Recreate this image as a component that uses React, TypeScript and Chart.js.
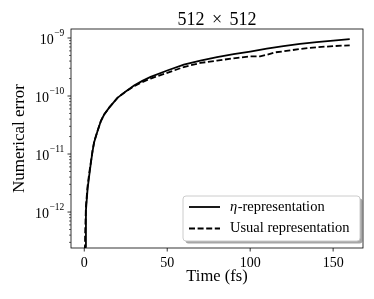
import React, { useEffect, useRef } from "react";
import { Chart, registerables } from "chart.js";

Chart.register(...registerables);

// ---- data ----
const etaTimes = [0, 0.5, 1, 2, 3, 4, 5, 6, 8, 10, 12, 15, 20, 25, 30, 35, 40, 50, 60, 70, 80, 90, 100, 110, 120, 130, 140, 150, 160];
const etaError = [2e-14, 2.5e-13, 1.07e-12, 2.5e-12, 4.3e-12, 7.1e-12, 1.12e-11, 1.62e-11, 2.5e-11, 3.7e-11, 4.8e-11, 6.3e-11, 9.3e-11, 1.2e-10, 1.51e-10, 1.82e-10, 2.14e-10, 2.75e-10, 3.47e-10, 4.07e-10, 4.68e-10, 5.25e-10, 5.82e-10, 6.53e-10, 7.24e-10, 7.94e-10, 8.51e-10, 9.02e-10, 9.55e-10];

const usualTimes = [0, 0.5, 1, 2, 3, 4, 5, 6, 8, 10, 12, 15, 20, 25, 30, 35, 40, 50, 60, 70, 80, 90, 100, 106, 110, 115, 120, 130, 140, 150, 160];
const usualError = [2e-14, 4e-13, 1.26e-12, 2.8e-12, 4.7e-12, 7.3e-12, 1.15e-11, 1.65e-11, 2.5e-11, 3.7e-11, 4.8e-11, 6.3e-11, 9.3e-11, 1.19e-10, 1.48e-10, 1.74e-10, 2.0e-10, 2.51e-10, 3.16e-10, 3.72e-10, 4.07e-10, 4.47e-10, 4.81e-10, 4.83e-10, 5.13e-10, 5.66e-10, 5.89e-10, 6.46e-10, 6.92e-10, 7.24e-10, 7.48e-10];

const xTickValues = [0, 50, 100, 150];
const yDecades = [-13, -12, -11, -10, -9];

const titleParts = ["512", "×", "512"];
const xTitle = "Time (fs)";
const yTitle = "Numerical error";
const legendLabels = ["-representation", "Usual representation"];

const FONT = "'Liberation Serif', 'DejaVu Serif', serif";

const X_MIN = -8, X_MAX = 168;
const Y_MIN = Math.pow(10, -12.62), Y_MAX = Math.pow(10, -8.845);

const framePlugin = {
  id: "mplFrame",
  afterDraw(chart: any) {
    const ctx = chart.ctx as CanvasRenderingContext2D;
    const a = chart.chartArea;
    const xs = chart.scales.x, ys = chart.scales.y;
    ctx.save();

    // title (mathtext-like spacing)
    ctx.fillStyle = "#000";
    ctx.textBaseline = "alphabetic";
    ctx.textAlign = "left";
    ctx.font = `18px ${FONT}`;
    const gap = 7.5;
    const widths = titleParts.map((p) => ctx.measureText(p).width);
    const total = widths.reduce((s, w) => s + w, 0) + gap * (titleParts.length - 1);
    let tx = (a.left + a.right) / 2 - total / 2;
    titleParts.forEach((p, i) => {
      ctx.fillText(p, tx, 25);
      tx += widths[i] + gap;
    });

    // tick marks + y tick labels
    ctx.strokeStyle = "#000";
    for (const t of ys.ticks) {
      const y = ys.getPixelForValue(t.value);
      if (y < a.top - 0.5 || y > a.bottom + 0.5) continue;
      const major = !!t.major;
      ctx.lineWidth = major ? 0.8 : 0.6;
      ctx.beginPath();
      ctx.moveTo(a.left, y);
      ctx.lineTo(a.left - (major ? 3.5 : 2), y);
      ctx.stroke();
      if (major) {
        const exp = "\u2212" + String(Math.abs(Math.round(Math.log10(t.value))));
        ctx.font = `9.5px ${FONT}`;
        const ew = ctx.measureText(exp).width;
        ctx.font = `14px ${FONT}`;
        const bw = ctx.measureText("10").width;
        const right = a.left - 6.7;
        ctx.fillText("10", right - ew - bw - 0.5, y + 5.7);
        ctx.font = `9.5px ${FONT}`;
        ctx.fillText(exp, right - ew, y - 1.7);
      }
    }
    for (const t of xs.ticks) {
      const x = xs.getPixelForValue(t.value);
      ctx.lineWidth = 0.8;
      ctx.beginPath();
      ctx.moveTo(x, a.bottom);
      ctx.lineTo(x, a.bottom + 3.5);
      ctx.stroke();
    }
    // frame
    ctx.lineWidth = 0.8;
    ctx.strokeStyle = "#000";
    ctx.strokeRect(a.left, a.top, a.right - a.left, a.bottom - a.top);

    // legend
    const bx = 183, by = 196, bw = 177, bh = 45, r = 3;
    const rr = (x: number, y: number, w: number, h: number) => {
      ctx.beginPath();
      ctx.moveTo(x + r, y);
      ctx.lineTo(x + w - r, y);
      ctx.arcTo(x + w, y, x + w, y + r, r);
      ctx.lineTo(x + w, y + h - r);
      ctx.arcTo(x + w, y + h, x + w - r, y + h, r);
      ctx.lineTo(x + r, y + h);
      ctx.arcTo(x, y + h, x, y + h - r, r);
      ctx.lineTo(x, y + r);
      ctx.arcTo(x, y, x + r, y, r);
      ctx.closePath();
    };
    rr(bx + 2.5, by + 2.5, bw, bh);
    ctx.fillStyle = "rgba(77,77,77,0.5)";
    ctx.fill();
    rr(bx, by, bw, bh);
    ctx.fillStyle = "#ffffff";
    ctx.fill();
    ctx.lineWidth = 1;
    ctx.strokeStyle = "#cccccc";
    ctx.stroke();

    const rows = [207, 228.5];
    ctx.strokeStyle = "#000";
    ctx.lineWidth = 1.8;
    ctx.beginPath();
    ctx.moveTo(189, rows[0]);
    ctx.lineTo(220, rows[0]);
    ctx.stroke();
    ctx.setLineDash([6, 2.6]);
    ctx.beginPath();
    ctx.moveTo(189, rows[1]);
    ctx.lineTo(220, rows[1]);
    ctx.stroke();
    ctx.setLineDash([]);

    ctx.fillStyle = "#000";
    ctx.textBaseline = "middle";
    ctx.textAlign = "left";
    ctx.font = `italic 14.5px ${FONT}`;
    ctx.fillText("η", 230, rows[0]);
    const etaW = ctx.measureText("η").width;
    ctx.font = `14.5px ${FONT}`;
    ctx.fillText(legendLabels[0], 230 + etaW + 0.5, rows[0]);
    ctx.fillText(legendLabels[1], 230, rows[1]);
    ctx.restore();
  },
};

export default function App() {
  const ref = useRef<HTMLCanvasElement | null>(null);
  useEffect(() => {
    if (!ref.current) return;
    const chart = new Chart(ref.current, {
      type: "line",
      data: {
        datasets: [
          {
            label: "η-representation",
            data: etaTimes.map((t, i) => ({ x: t, y: etaError[i] })),
            borderColor: "#000",
            borderWidth: 1.8,
            pointRadius: 0,
            tension: 0,
            fill: false,
          },
          {
            label: "Usual representation",
            data: usualTimes.map((t, i) => ({ x: t, y: usualError[i] })),
            borderColor: "#000",
            borderWidth: 1.8,
            borderDash: [6, 2.6],
            pointRadius: 0,
            tension: 0,
            fill: false,
          },
        ],
      },
      options: {
        responsive: false,
        animation: false,
        devicePixelRatio: 1,
        layout: { padding: { top: 29, right: 11, left: 0, bottom: 0 } },
        plugins: {
          legend: { display: false },
          tooltip: { enabled: false },
          title: { display: false },
        },
        scales: {
          x: {
            type: "linear",
            min: X_MIN,
            max: X_MAX,
            grid: { display: false, drawTicks: false },
            border: { display: false },
            afterBuildTicks: (s: any) => {
              s.ticks = xTickValues.map((v) => ({ value: v }));
            },
            afterFit: (s: any) => {
              s.height = 51;
            },
            ticks: {
              color: "#000",
              font: { family: FONT, size: 14 },
              padding: 7,
              maxRotation: 0,
              autoSkip: false,
              callback: (v: any) => String(v),
            },
            title: {
              display: true,
              text: xTitle,
              color: "#000",
              font: { family: FONT, size: 16.5 },
              padding: { top: 0, bottom: 12 },
            },
          },
          y: {
            type: "logarithmic",
            min: Y_MIN,
            max: Y_MAX,
            grid: { display: false, drawTicks: false },
            border: { display: false },
            afterBuildTicks: (s: any) => {
              const ticks: any[] = [];
              for (const e of yDecades) {
                for (let m = 1; m <= 9; m++) {
                  const v = m * Math.pow(10, e);
                  if (v >= Y_MIN && v <= Y_MAX) ticks.push({ value: v, major: m === 1 });
                }
              }
              s.ticks = ticks;
            },
            afterFit: (s: any) => {
              s.width = 71;
            },
            ticks: {
              display: false,
              autoSkip: false,
            },
            title: {
              display: true,
              text: yTitle,
              color: "#000",
              font: { family: FONT, size: 17 },
              padding: { top: 9, bottom: 0 },
            },
          },
        },
      },
      plugins: [framePlugin],
    });
    return () => chart.destroy();
  }, []);
  return (
    <div style={{ position: "absolute", left: 0, top: 0, width: 374, height: 299, background: "#fff" }}>
      <canvas ref={ref} width={374} height={299} />
    </div>
  );
}
